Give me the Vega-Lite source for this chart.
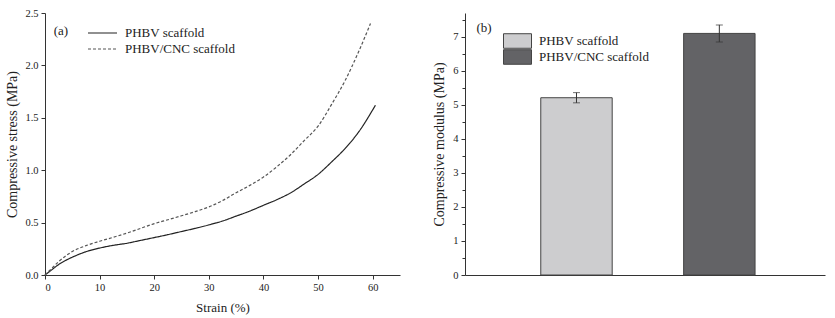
{
  "$schema": "https://vega.github.io/schema/vega-lite/v6.json",
  "padding": {"left": 5, "top": 8, "right": 5, "bottom": 5},
  "background": "white",
  "spacing": 65,
  "bounds": "flush",
  "resolve": {
    "scale": {"color": "independent", "fill": "independent", "strokeDash": "independent"},
    "legend": {"color": "independent", "fill": "independent", "strokeDash": "independent"}
  },
  "config": {
    "view": {"stroke": null},
    "font": "Liberation Serif",
    "axis": {
      "grid": false,
      "domainColor": "#333",
      "tickColor": "#333",
      "labelFont": "Liberation Serif",
      "labelFontSize": 10.5,
      "labelColor": "#222",
      "titleFont": "Liberation Serif",
      "titleFontSize": 13,
      "titleFontWeight": "normal",
      "titleColor": "#222",
      "labelOverlap": false,
      "labelPadding": 3
    },
    "legend": {
      "labelFont": "Liberation Serif",
      "labelFontSize": 13,
      "labelColor": "#222"
    }
  },
  "hconcat": [
    {
      "width": 355,
      "height": 262,
      "layer": [
        {
          "data": {"values": [
            {"series": "PHBV scaffold", "strain": 0, "stress": 0.0},
            {"series": "PHBV scaffold", "strain": 1, "stress": 0.04},
            {"series": "PHBV scaffold", "strain": 2.5, "stress": 0.10},
            {"series": "PHBV scaffold", "strain": 4, "stress": 0.145},
            {"series": "PHBV scaffold", "strain": 5, "stress": 0.17},
            {"series": "PHBV scaffold", "strain": 7.5, "stress": 0.222},
            {"series": "PHBV scaffold", "strain": 10, "stress": 0.257},
            {"series": "PHBV scaffold", "strain": 12.5, "stress": 0.283},
            {"series": "PHBV scaffold", "strain": 15, "stress": 0.303},
            {"series": "PHBV scaffold", "strain": 17.5, "stress": 0.33},
            {"series": "PHBV scaffold", "strain": 20, "stress": 0.357},
            {"series": "PHBV scaffold", "strain": 22.5, "stress": 0.385},
            {"series": "PHBV scaffold", "strain": 25, "stress": 0.415},
            {"series": "PHBV scaffold", "strain": 27.5, "stress": 0.445},
            {"series": "PHBV scaffold", "strain": 30, "stress": 0.478},
            {"series": "PHBV scaffold", "strain": 32.5, "stress": 0.515},
            {"series": "PHBV scaffold", "strain": 35, "stress": 0.562},
            {"series": "PHBV scaffold", "strain": 37.5, "stress": 0.61},
            {"series": "PHBV scaffold", "strain": 40, "stress": 0.665},
            {"series": "PHBV scaffold", "strain": 42.5, "stress": 0.72},
            {"series": "PHBV scaffold", "strain": 45, "stress": 0.785},
            {"series": "PHBV scaffold", "strain": 47.5, "stress": 0.87},
            {"series": "PHBV scaffold", "strain": 50, "stress": 0.96},
            {"series": "PHBV scaffold", "strain": 52.5, "stress": 1.08},
            {"series": "PHBV scaffold", "strain": 55, "stress": 1.21},
            {"series": "PHBV scaffold", "strain": 57.5, "stress": 1.37},
            {"series": "PHBV scaffold", "strain": 60.5, "stress": 1.62},
            {"series": "PHBV/CNC scaffold", "strain": 0, "stress": 0.0},
            {"series": "PHBV/CNC scaffold", "strain": 1, "stress": 0.05},
            {"series": "PHBV/CNC scaffold", "strain": 2.5, "stress": 0.128},
            {"series": "PHBV/CNC scaffold", "strain": 4, "stress": 0.19},
            {"series": "PHBV/CNC scaffold", "strain": 5, "stress": 0.224},
            {"series": "PHBV/CNC scaffold", "strain": 7.5, "stress": 0.28},
            {"series": "PHBV/CNC scaffold", "strain": 10, "stress": 0.322},
            {"series": "PHBV/CNC scaffold", "strain": 12.5, "stress": 0.36},
            {"series": "PHBV/CNC scaffold", "strain": 15, "stress": 0.40},
            {"series": "PHBV/CNC scaffold", "strain": 17.5, "stress": 0.445},
            {"series": "PHBV/CNC scaffold", "strain": 20, "stress": 0.49},
            {"series": "PHBV/CNC scaffold", "strain": 22.5, "stress": 0.527},
            {"series": "PHBV/CNC scaffold", "strain": 25, "stress": 0.565},
            {"series": "PHBV/CNC scaffold", "strain": 27.5, "stress": 0.605},
            {"series": "PHBV/CNC scaffold", "strain": 30, "stress": 0.65},
            {"series": "PHBV/CNC scaffold", "strain": 32.5, "stress": 0.71},
            {"series": "PHBV/CNC scaffold", "strain": 35, "stress": 0.785},
            {"series": "PHBV/CNC scaffold", "strain": 37.5, "stress": 0.855},
            {"series": "PHBV/CNC scaffold", "strain": 40, "stress": 0.935},
            {"series": "PHBV/CNC scaffold", "strain": 42.5, "stress": 1.035},
            {"series": "PHBV/CNC scaffold", "strain": 45, "stress": 1.15},
            {"series": "PHBV/CNC scaffold", "strain": 47.5, "stress": 1.285},
            {"series": "PHBV/CNC scaffold", "strain": 50, "stress": 1.42},
            {"series": "PHBV/CNC scaffold", "strain": 52.5, "stress": 1.63},
            {"series": "PHBV/CNC scaffold", "strain": 55, "stress": 1.86},
            {"series": "PHBV/CNC scaffold", "strain": 57.5, "stress": 2.14},
            {"series": "PHBV/CNC scaffold", "strain": 59.6, "stress": 2.40}
          ]},
          "mark": {"type": "line", "interpolate": "monotone", "strokeWidth": 1.2},
          "encoding": {
            "x": {
              "field": "strain", "type": "quantitative",
              "scale": {"domain": [0, 65], "nice": false, "zero": false},
              "axis": {
                "title": "Strain (%)",
                "values": [0, 5, 10, 15, 20, 25, 30, 35, 40, 45, 50, 55, 60, 65],
                "labelExpr": "datum.value % 10 === 0 ? datum.label : ''",
                "tickSize": {"condition": {"test": "datum.value % 10 !== 0", "value": 3}, "value": 4},
                "titlePadding": 9
              }
            },
            "y": {
              "field": "stress", "type": "quantitative",
              "scale": {"domain": [0, 2.5], "nice": false},
              "axis": {
                "title": "Compressive stress (MPa)",
                "titleFontSize": 14,
                "values": [0, 0.25, 0.5, 0.75, 1, 1.25, 1.5, 1.75, 2, 2.25, 2.5],
                "labelExpr": "(datum.value * 2) % 1 === 0 ? format(datum.value, '.1f') : ''",
                "tickSize": {"condition": {"test": "(datum.value * 2) % 1 !== 0", "value": 3}, "value": 4},
                "titlePadding": 5
              }
            },
            "color": {
              "field": "series", "type": "nominal",
              "scale": {"domain": ["PHBV scaffold", "PHBV/CNC scaffold"], "range": ["#222222", "#555555"]},
              "legend": {"title": null, "orient": "none", "legendX": 42, "legendY": 12, "symbolType": "stroke", "symbolSize": 841, "symbolStrokeWidth": 1.2, "labelOffset": 7, "rowPadding": 0, "clipHeight": 16}
            },
            "strokeDash": {
              "field": "series", "type": "nominal",
              "scale": {"domain": ["PHBV scaffold", "PHBV/CNC scaffold"], "range": [[1, 0], [3, 2]]},
              "legend": {"title": null, "orient": "none", "legendX": 42, "legendY": 12, "symbolType": "stroke", "symbolSize": 841, "symbolStrokeWidth": 1.2, "labelOffset": 7, "rowPadding": 0, "clipHeight": 16}
            }
          }
        },
        {
          "data": {"values": [{"panel": "(a)"}]},
          "mark": {"type": "text", "align": "left", "baseline": "middle", "fontSize": 13, "font": "Liberation Serif", "color": "#222"},
          "encoding": {
            "x": {"datum": 1.6, "type": "quantitative"},
            "y": {"datum": 2.33, "type": "quantitative"},
            "text": {"field": "panel"}
          }
        }
      ]
    },
    {
      "width": 360,
      "height": 262,
      "layer": [
        {
          "data": {"values": [
            {"sample": "PHBV scaffold", "modulus": 5.21, "err": 0.15},
            {"sample": "PHBV/CNC scaffold", "modulus": 7.1, "err": 0.25}
          ]},
          "mark": {"type": "bar", "stroke": "#444", "strokeWidth": 1},
          "encoding": {
            "x": {
              "field": "sample", "type": "nominal", "sort": null,
              "scale": {"domain": ["PHBV scaffold", "PHBV/CNC scaffold"], "paddingInner": 0.5, "paddingOuter": 0.51, "align": 0.52},
              "axis": {"labels": false, "ticks": false, "title": null, "domain": true}
            },
            "y": {
              "field": "modulus", "type": "quantitative",
              "scale": {"domain": [0, 7.7], "nice": false},
              "axis": {
                "title": "Compressive modulus (MPa)",
                "titleFontSize": 14,
                "values": [0, 0.5, 1, 1.5, 2, 2.5, 3, 3.5, 4, 4.5, 5, 5.5, 6, 6.5, 7, 7.5],
                "labelExpr": "datum.value % 1 === 0 ? format(datum.value, 'd') : ''",
                "tickSize": {"condition": {"test": "datum.value % 1 !== 0", "value": 3}, "value": 4},
                "titlePadding": 6
              }
            },
            "fill": {
              "field": "sample", "type": "nominal",
              "scale": {"domain": ["PHBV scaffold", "PHBV/CNC scaffold"], "range": ["#cdcdcf", "#636366"]},
              "legend": {"title": null, "orient": "none", "legendX": 38, "legendY": 20, "symbolType": "M-1,-0.52H1V0.52H-1Z", "symbolSize": 784, "symbolStrokeColor": "#444", "symbolStrokeWidth": 1, "symbolOpacity": 1, "labelOffset": 7, "rowPadding": 0, "clipHeight": 16}
            }
          }
        },
        {
          "data": {"values": [
            {"sample": "PHBV scaffold", "modulus": 5.21, "err": 0.15},
            {"sample": "PHBV/CNC scaffold", "modulus": 7.1, "err": 0.25}
          ]},
          "mark": {"type": "errorbar", "ticks": {"size": 7}, "color": "#333"},
          "encoding": {
            "x": {"field": "sample", "type": "nominal", "sort": null, "axis": {"labels": false, "ticks": false, "title": null, "domain": true}},
            "y": {
              "field": "modulus", "type": "quantitative",
              "axis": {
                "title": "Compressive modulus (MPa)",
                "titleFontSize": 14,
                "values": [0, 0.5, 1, 1.5, 2, 2.5, 3, 3.5, 4, 4.5, 5, 5.5, 6, 6.5, 7, 7.5],
                "labelExpr": "datum.value % 1 === 0 ? format(datum.value, 'd') : ''",
                "tickSize": {"condition": {"test": "datum.value % 1 !== 0", "value": 3}, "value": 4},
                "titlePadding": 6
              }
            },
            "yError": {"field": "err"}
          }
        },
        {
          "data": {"values": [{"panel": "(b)", "sample": "PHBV scaffold"}]},
          "mark": {"type": "text", "align": "left", "baseline": "middle", "fontSize": 13, "font": "Liberation Serif", "color": "#222", "dx": -100},
          "encoding": {
            "x": {"field": "sample", "type": "nominal", "sort": null, "axis": {"labels": false, "ticks": false, "title": null, "domain": true}},
            "y": {
              "datum": 7.27, "type": "quantitative",
              "axis": {
                "title": "Compressive modulus (MPa)",
                "titleFontSize": 14,
                "values": [0, 0.5, 1, 1.5, 2, 2.5, 3, 3.5, 4, 4.5, 5, 5.5, 6, 6.5, 7, 7.5],
                "labelExpr": "datum.value % 1 === 0 ? format(datum.value, 'd') : ''",
                "tickSize": {"condition": {"test": "datum.value % 1 !== 0", "value": 3}, "value": 4},
                "titlePadding": 6
              }
            },
            "text": {"field": "panel"}
          }
        }
      ]
    }
  ]
}
